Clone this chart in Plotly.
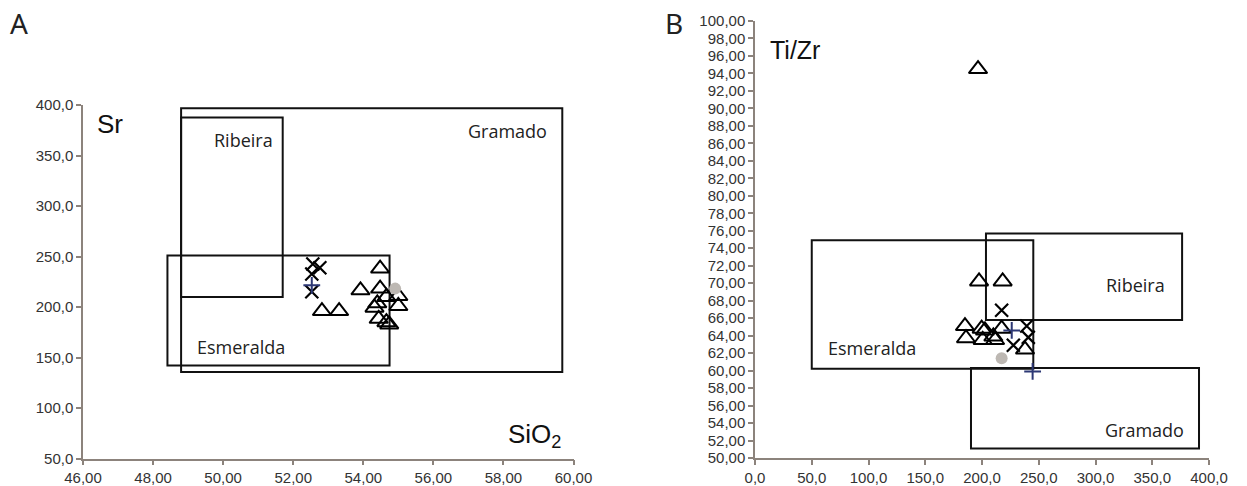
import plotly.graph_objects as go

# ---------------- Panel A: Sr vs SiO2 ----------------
a_tri_sio2 = [52.82, 53.31, 53.92, 54.48, 54.48, 54.40, 54.32, 54.44, 54.66, 54.66, 54.74, 55.00, 55.00]
a_tri_sr = [196.0, 196.0, 216.5, 238.0, 218.2, 203.6, 199.3, 188.3, 210.0, 185.0, 182.7, 210.9, 201.0]
a_x_sio2 = [52.56, 52.76, 52.53, 52.53]
a_x_sr = [242.6, 238.9, 232.7, 215.1]
a_plus_sio2 = [52.53]
a_plus_sr = [221.5]
a_dot_sio2 = [54.91]
a_dot_sr = [218.2]

a_xticks = [46, 48, 50, 52, 54, 56, 58, 60]
a_xticklabels = ["46,00", "48,00", "50,00", "52,00", "54,00", "56,00", "58,00", "60,00"]
a_yticks = [50, 100, 150, 200, 250, 300, 350, 400]
a_yticklabels = ["50,0", "100,0", "150,0", "200,0", "250,0", "300,0", "350,0", "400,0"]

# field boxes: name, x0, x1, y0, y1
a_fields = ["Gramado", "Ribeira", "Esmeralda"]
a_field_x0 = [48.80, 48.80, 48.41]
a_field_x1 = [59.68, 51.70, 54.75]
a_field_y0 = [135.6, 210.0, 142.2]
a_field_y1 = [396.7, 387.7, 251.0]
a_label_x = [58.13, 50.58, 50.52]
a_label_y = [374.0, 365.0, 160.0]

# ---------------- Panel B: Ti/Zr vs Sr ----------------
b_tri_sr = [196.5, 197.4, 218.2, 185.0, 185.9, 199.7, 202.6, 200.6, 210.0, 211.5, 217.3, 237.9]
b_tri_tizr = [94.5, 70.2, 70.2, 65.1, 63.7, 64.8, 64.6, 63.5, 63.9, 63.5, 64.8, 62.4]
b_x_sr = [217.3, 239.4, 240.8, 227.6]
b_x_tizr = [66.9, 65.1, 63.8, 62.9]
b_plus_sr = [226.2, 244.6]
b_plus_tizr = [64.6, 59.9]
b_dot_sr = [217.3]
b_dot_tizr = [61.4]

b_xticks = [0, 50, 100, 150, 200, 250, 300, 350, 400]
b_xticklabels = ["0,0", "50,0", "100,0", "150,0", "200,0", "250,0", "300,0", "350,0", "400,0"]
b_yticks = list(range(50, 101, 2))
b_yticklabels = [f"{v},00" for v in b_yticks]

b_fields = ["Esmeralda", "Ribeira", "Gramado"]
b_field_x0 = [50.0, 203.5, 190.3]
b_field_x1 = [245.2, 376.3, 391.2]
b_field_y0 = [60.2, 65.8, 51.1]
b_field_y1 = [74.9, 75.7, 60.3]
b_label_x = [103.0, 335.0, 343.0]
b_label_y = [62.6, 69.8, 53.2]

AXIS_COLOR = "#8c837c"
TICK_FONT = dict(family="Liberation Sans, Arial, sans-serif", size=15, color="#333333")
LABEL_FONT = dict(family="Open Sans, sans-serif", size=18, color="#222222")
TITLE_FONT = dict(family="Liberation Sans, Arial, sans-serif", size=26, color="#111111")
PANEL_FONT = dict(family="Noto Sans, sans-serif", size=28, color="#222222")

TRI = dict(symbol="triangle-up-open", size=16, color="black", line=dict(width=2, color="black"))
XM = dict(symbol="x-thin-open", size=13, color="black", line=dict(width=2.2, color="black"))
PLUS = dict(symbol="cross-thin-open", size=12, color="#2d3875", line=dict(width=2, color="#2d3875"))
DOT = dict(symbol="circle", size=12, color="#bdb8b3", line=dict(width=0))

fig = go.Figure()


def add_points(xs, ys, marker, xa, ya):
    fig.add_trace(go.Scatter(x=xs, y=ys, mode="markers", marker=marker,
                             xaxis=xa, yaxis=ya, showlegend=False, hoverinfo="skip",
                             cliponaxis=False))


add_points(a_tri_sio2, a_tri_sr, TRI, "x", "y")
add_points(a_x_sio2, a_x_sr, XM, "x", "y")
add_points(a_plus_sio2, a_plus_sr, PLUS, "x", "y")
add_points(a_dot_sio2, a_dot_sr, DOT, "x", "y")

add_points(b_tri_sr, b_tri_tizr, TRI, "x2", "y2")
add_points(b_x_sr, b_x_tizr, XM, "x2", "y2")
add_points(b_plus_sr, b_plus_tizr, PLUS, "x2", "y2")
add_points(b_dot_sr, b_dot_tizr, DOT, "x2", "y2")

shapes = []
annotations = []
for name, x0, x1, y0, y1, lx, ly in zip(a_fields, a_field_x0, a_field_x1, a_field_y0, a_field_y1, a_label_x, a_label_y):
    shapes.append(dict(type="rect", xref="x", yref="y", x0=x0, x1=x1, y0=y0, y1=y1,
                       line=dict(color="#111111", width=2), fillcolor="rgba(0,0,0,0)", layer="below"))
    annotations.append(dict(text=name, x=lx, y=ly, xref="x", yref="y", showarrow=False, font=LABEL_FONT))
for name, x0, x1, y0, y1, lx, ly in zip(b_fields, b_field_x0, b_field_x1, b_field_y0, b_field_y1, b_label_x, b_label_y):
    shapes.append(dict(type="rect", xref="x2", yref="y2", x0=x0, x1=x1, y0=y0, y1=y1,
                       line=dict(color="#111111", width=2), fillcolor="rgba(0,0,0,0)", layer="below"))
    annotations.append(dict(text=name, x=lx, y=ly, xref="x2", yref="y2", showarrow=False, font=LABEL_FONT))

# axis titles placed inside the plot areas, panel letters in the corners
annotations += [
    dict(text="Sr", x=46.77, y=381, xref="x", yref="y", showarrow=False, font=TITLE_FONT),
    dict(text="SiO<sub>2</sub>", x=58.9, y=73, xref="x", yref="y", showarrow=False, font=TITLE_FONT),
    dict(text="Ti/Zr", x=35, y=96.7, xref="x2", yref="y2", showarrow=False,
         font=dict(family="Liberation Sans, Arial, sans-serif", size=25, color="#111111")),
    dict(text="Sr", x=418, y=52.4, xref="x2", yref="y2", showarrow=False, font=TITLE_FONT),
    dict(text="A", x=19 / 1247, y=1 - 23 / 486, xref="paper", yref="paper", showarrow=False,
         xanchor="center", yanchor="middle", font=PANEL_FONT),
    dict(text="B", x=674 / 1247, y=1 - 23 / 486, xref="paper", yref="paper", showarrow=False,
         xanchor="center", yanchor="middle", font=PANEL_FONT),
]

axis_common = dict(showgrid=False, zeroline=False, showline=True, linecolor=AXIS_COLOR, linewidth=1.5,
                   ticks="outside", ticklen=5, tickwidth=1.5, tickcolor=AXIS_COLOR, tickfont=TICK_FONT,
                   automargin=False)

H = 486.0
W = 1247.0
fig.update_layout(
    width=1247, height=486,
    margin=dict(l=0, r=0, t=0, b=0, autoexpand=False),
    paper_bgcolor="white", plot_bgcolor="white",
    xaxis=dict(domain=[83 / W, 573.5 / W], range=[46, 60], tickvals=a_xticks, ticktext=a_xticklabels,
               anchor="y", **axis_common),
    yaxis=dict(domain=[1 - 458.5 / H, 1 - 105 / H], range=[50, 400], tickvals=a_yticks, ticktext=a_yticklabels,
               anchor="x", **axis_common),
    xaxis2=dict(domain=[755 / W, 1209 / W], range=[0, 400], tickvals=b_xticks, ticktext=b_xticklabels,
                anchor="y2", **axis_common),
    yaxis2=dict(domain=[1 - 458 / H, 1 - 21 / H], range=[50, 100], tickvals=b_yticks, ticktext=b_yticklabels,
                anchor="x2", **axis_common),
    shapes=shapes,
    annotations=annotations,
)

fig.write_html("out.html")
